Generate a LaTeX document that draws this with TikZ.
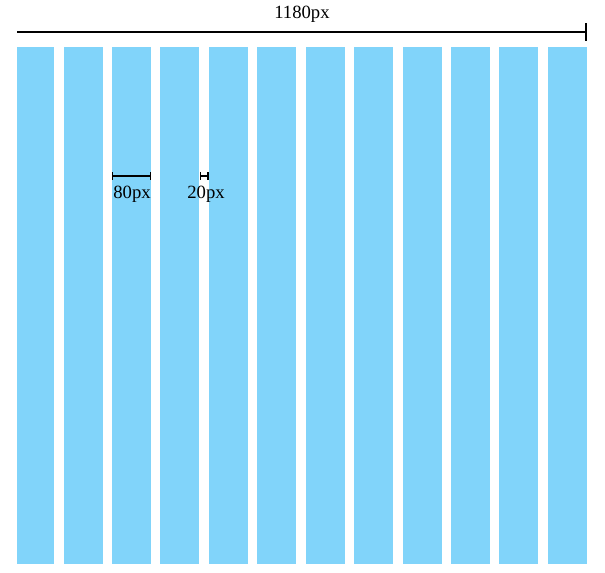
\documentclass[tikz,border=0pt]{standalone}
\usepackage{fontspec}
\setmainfont{Liberation Serif}
\usetikzlibrary{arrows.meta,positioning}

\definecolor{gridblue}{HTML}{81D4FA}

\begin{document}
\begin{tikzpicture}[
  x=0.75pt, y=-0.75pt,
  font=\fontsize{14}{16}\selectfont,
  column/.style={
    fill=gridblue,
    draw=none,
    inner sep=0pt,
    anchor=north west,
    minimum width=29.25pt,
    minimum height=387.4pt
  },
  total/.style={-{Bar[width=13pt,line width=1.5pt]}, line width=1pt, draw=black},
  measure/.style={{Bar[width=5.5pt,line width=1pt]}-{Bar[width=5.5pt,line width=1pt]}, line width=.8pt, draw=black},
  label/.style={inner sep=1pt, anchor=base}
]

\useasboundingbox (0,0) rectangle (605,572);

% twelve columns, 80px wide with 20px gutters (first one cut at the left edge)
\begin{scope}
  \clip (17,0) rectangle (605,572);
  \foreach \i in {1,...,12}
    \node[column] (col\i) at ({63.3+48.43*(\i-2)},47) {};
\end{scope}

% full width
\coordinate (leftedge) at (17,32);
\draw[total] (leftedge) -- (col12.east |- leftedge);
\node[label] (widthtext) at (302,18) {1180px};

% column and gutter
\coordinate (dimy) at (0,176);
\draw[measure] (col3.west |- dimy) -- (col3.east |- dimy);
\node[label] (coltext) at (132,198) {80px};

\draw[measure] (col4.east |- dimy) -- (col5.west |- dimy);
\node[label] (guttertext) at (206,198) {20px};

\end{tikzpicture}
\end{document}
